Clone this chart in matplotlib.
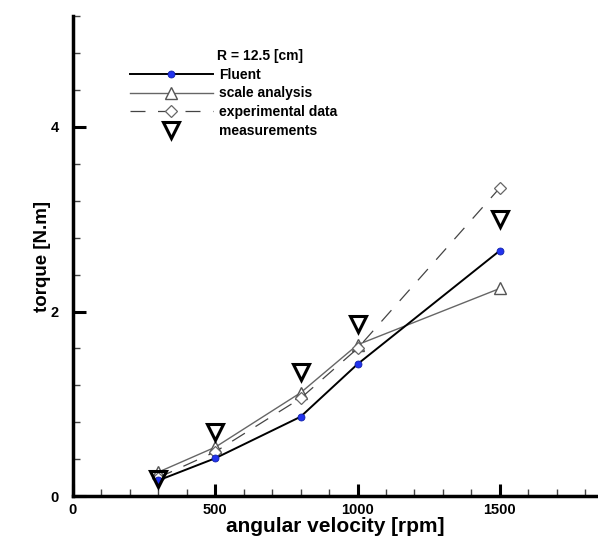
import matplotlib.pyplot as plt
import numpy as np
from matplotlib.ticker import MultipleLocator

plt.rcParams['font.family'] = ['Liberation Sans', 'DejaVu Sans']
plt.rcParams['font.weight'] = 'bold'

# angular velocity [rpm]
rpm = np.array([300, 500, 800, 1000, 1500])

# torque [N.m]
fluent = np.array([0.17, 0.41, 0.86, 1.43, 2.66])
scale_analysis = np.array([0.26, 0.53, 1.12, 1.64, 2.25])
experimental = np.array([0.20, 0.48, 1.06, 1.60, 3.34])
measurements = np.array([0.18, 0.69, 1.34, 1.87, 3.00])

fig = plt.figure(figsize=(5.98, 5.41), dpi=100)
ax = fig.add_axes([0.122, 0.083, 0.878, 0.887])

ax.plot(rpm, fluent, color='black', lw=1.4, marker='o', ms=5,
        mfc='#2233ee', mec='#1122aa', mew=0.6, label='Fluent', zorder=4)
ax.plot(rpm, scale_analysis, color='#666666', lw=1.0, marker='^', ms=8,
        mfc='white', mec='#555555', mew=1.0, label='scale analysis', zorder=3)
ax.plot(rpm, experimental, color='#444444', lw=0.9, ls=(0, (12, 10)),
        marker='D', ms=6, mfc='white', mec='#666666', mew=0.9,
        label='experimental data', zorder=3)
ax.plot(rpm, measurements, ls='none', marker='v', ms=12, mfc='none',
        mec='black', mew=2.2, label='measurements', zorder=5)

ax.set_xlim(0, 1845)
ax.set_ylim(0, 5.2)
ax.xaxis.set_major_locator(MultipleLocator(500))
ax.xaxis.set_minor_locator(MultipleLocator(100))
ax.yaxis.set_major_locator(MultipleLocator(2))
ax.yaxis.set_minor_locator(MultipleLocator(0.4))

for s in ['top', 'right']:
    ax.spines[s].set_visible(False)
for s in ['left', 'bottom']:
    ax.spines[s].set_linewidth(2.5)

ax.tick_params(which='major', direction='in', length=9, width=2.2,
               labelsize=10.5)
ax.tick_params(axis='y', which='major', pad=10)
ax.tick_params(axis='x', which='major', pad=5)
ax.tick_params(which='minor', direction='in', length=5, width=1.0,
               color='#444444')

ax.set_xlabel('angular velocity [rpm]', fontsize=15, fontweight='bold',
              labelpad=0)
ax.set_ylabel('torque [N.m]', fontsize=13.5, fontweight='bold', labelpad=0)

ax.text(0.275, 0.917, 'R = 12.5 [cm]', transform=ax.transAxes,
        fontsize=10, fontweight='bold', va='center', ha='left')
leg = ax.legend(loc='upper left', bbox_to_anchor=(0.108, 0.893),
                frameon=False, fontsize=10, handlelength=6.0,
                handletextpad=0.45, labelspacing=0.35, numpoints=1,
                borderpad=0, borderaxespad=0)
for t in leg.get_texts():
    t.set_fontweight('bold')

fig.savefig('out.png', dpi=100)
